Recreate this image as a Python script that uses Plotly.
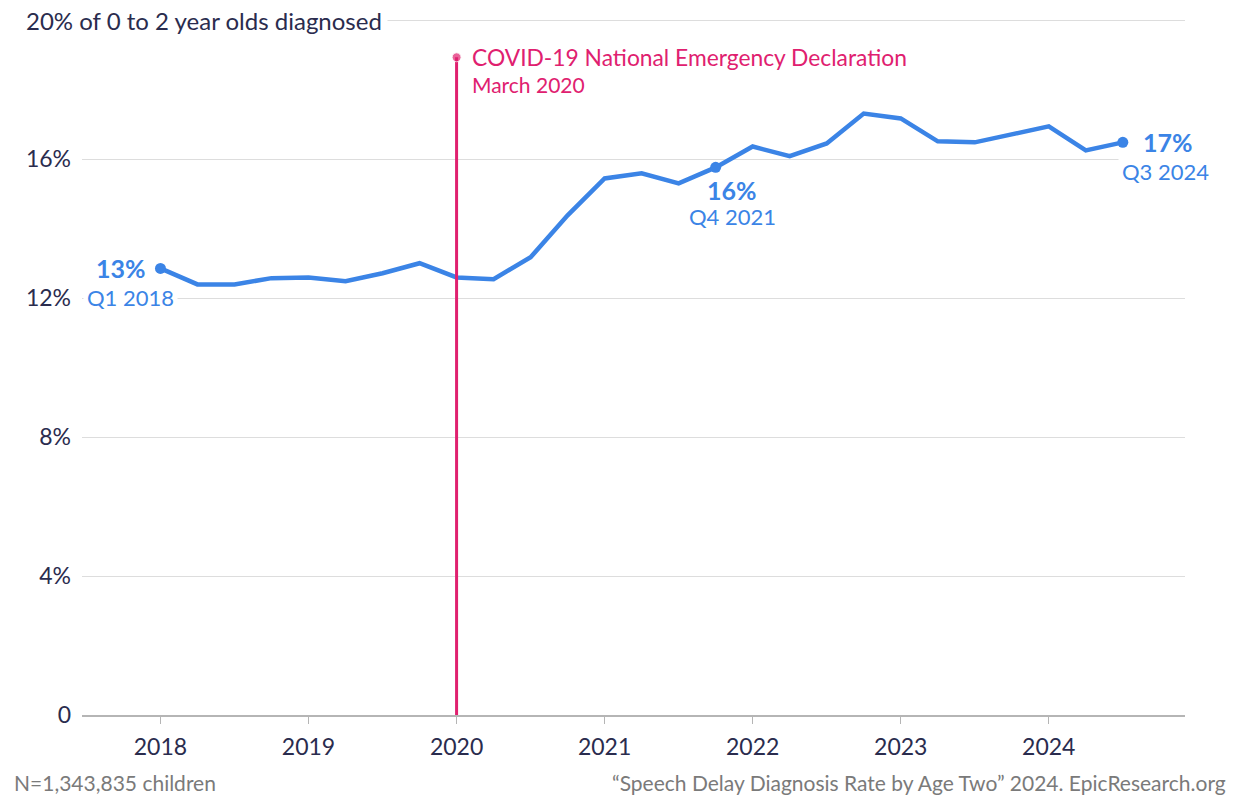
import plotly.graph_objects as go

# Quarterly data (fractional years: Q1 = .00, Q2 = .25, ...)
quarters = [
    "Q1 2018", "Q2 2018", "Q3 2018", "Q4 2018",
    "Q1 2019", "Q2 2019", "Q3 2019", "Q4 2019",
    "Q1 2020", "Q2 2020", "Q3 2020", "Q4 2020",
    "Q1 2021", "Q2 2021", "Q3 2021", "Q4 2021",
    "Q1 2022", "Q2 2022", "Q3 2022", "Q4 2022",
    "Q1 2023", "Q2 2023", "Q3 2023", "Q4 2023",
    "Q1 2024", "Q2 2024", "Q3 2024",
]
rate = [
    12.86, 12.40, 12.40, 12.58,
    12.60, 12.49, 12.72, 13.01,
    12.60, 12.55, 13.18, 14.39,
    15.45, 15.60, 15.31, 15.77,
    16.37, 16.09, 16.46, 17.32,
    17.18, 16.52, 16.49, 16.72,
    16.95, 16.26, 16.49,
]
year_ticks = [2018, 2019, 2020, 2021, 2022, 2023, 2024]
y_ticks = [0, 4, 8, 12, 16, 20]
y_ticktext = ["0", "4%", "8%", "12%", "16%", ""]
highlight = ["Q1 2018", "Q4 2021", "Q3 2024"]
highlight_text = ["13%", "16%", "17%"]
event_x = 2020.0
event_top = 18.94


def qx(q):
    qn, yr = q.split()
    return int(yr) + (int(qn[1]) - 1) / 4


xs = [qx(q) for q in quarters]
hx = [qx(q) for q in highlight]
hy = [rate[quarters.index(q)] for q in highlight]

BLUE = "#3b84e6"
PINK = "#e0206f"
NAVY = "#2a2c4e"
GRAY = "#7a7a7a"
FONT = "Lato"

fig = go.Figure()
fig.add_trace(go.Scatter(x=xs, y=rate, mode="lines",
                         line=dict(color=BLUE, width=4.5), hoverinfo="skip"))
fig.add_trace(go.Scatter(x=hx, y=hy, mode="markers",
                         marker=dict(color=BLUE, size=11), hoverinfo="skip"))
fig.add_trace(go.Scatter(x=[event_x, event_x], y=[0, event_top], mode="lines+markers",
                         line=dict(color=PINK, width=3),
                         marker=dict(color=PINK, size=[0, 9]), hoverinfo="skip"))

annotations = []
# 20% title-style tick label
annotations.append(dict(x=-0.056, xref="paper", y=20, yref="y", xanchor="left",
                        yanchor="middle", text="20% of 0 to 2 year olds diagnosed",
                        showarrow=False, bgcolor="white", borderpad=5,
                        font=dict(family=FONT, size=24, color=NAVY)))
# Event labels
annotations.append(dict(x=event_x, y=event_top, xanchor="left", yanchor="middle",
                        xshift=13, text="COVID-19 National Emergency Declaration",
                        showarrow=False, font=dict(family=FONT, size=22.8, color=PINK)))
annotations.append(dict(x=event_x, y=event_top, xanchor="left", yanchor="middle",
                        xshift=13, yshift=-27, text="March 2020",
                        showarrow=False, font=dict(family=FONT, size=21, color=PINK)))
# Highlight labels
# Q1 2018
annotations.append(dict(x=hx[0], y=hy[0], xanchor="right", yanchor="middle",
                        xshift=-12, yshift=0, text="<b>" + highlight_text[0] + "</b>",
                        showarrow=False, font=dict(family=FONT, size=25, color=BLUE)))
annotations.append(dict(x=hx[0], y=hy[0], xanchor="right", yanchor="middle",
                        xshift=18, yshift=-29, text=highlight[0], showarrow=False,
                        bgcolor="white", borderpad=3,
                        font=dict(family=FONT, size=22, color=BLUE)))
# Q4 2021
annotations.append(dict(x=hx[1], y=hy[1], xanchor="center", yanchor="middle",
                        xshift=16, yshift=-23, text="<b>" + highlight_text[1] + "</b>",
                        showarrow=False, font=dict(family=FONT, size=25, color=BLUE)))
annotations.append(dict(x=hx[1], y=hy[1], xanchor="center", yanchor="middle",
                        xshift=17, yshift=-49, text=highlight[1], showarrow=False,
                        font=dict(family=FONT, size=22, color=BLUE)))
# Q3 2024
annotations.append(dict(x=hx[2], y=hy[2], xanchor="left", yanchor="middle",
                        xshift=18, yshift=0, text="<b>" + highlight_text[2] + "</b>",
                        showarrow=False, font=dict(family=FONT, size=25, color=BLUE)))
annotations.append(dict(x=hx[2], y=hy[2], xanchor="left", yanchor="middle",
                        xshift=-5, yshift=-29, text=highlight[2], showarrow=False,
                        bgcolor="white", borderpad=3,
                        font=dict(family=FONT, size=22, color=BLUE)))
# Footer
annotations.append(dict(x=-0.0635, xref="paper", y=-0.0974, yref="paper",
                        xanchor="left", yanchor="middle", text="N=1,343,835 children",
                        showarrow=False, font=dict(family=FONT, size=21, color=GRAY)))
annotations.append(dict(x=1.0390, xref="paper", y=-0.0974, yref="paper",
                        xanchor="right", yanchor="middle",
                        text="\u201cSpeech Delay Diagnosis Rate by Age Two\u201d 2024. EpicResearch.org",
                        showarrow=False, font=dict(family=FONT, size=21, color=GRAY)))

fig.update_layout(
    width=1239, height=796,
    margin=dict(l=82, r=54, t=17, b=81, pad=0),
    plot_bgcolor="white", paper_bgcolor="white",
    showlegend=False,
    font=dict(family=FONT, color=NAVY),
    annotations=annotations,
    xaxis=dict(range=[2017.47, 2024.92], tickvals=year_ticks,
               ticktext=[str(y) for y in year_ticks],
               showgrid=False, zeroline=False, showline=True, linecolor="#b5b5b5",
               linewidth=1.5, ticks="outside", ticklen=7, tickcolor="#b5b5b5",
               tickwidth=1, ticklabelstandoff=4,
               tickfont=dict(family=FONT, size=23, color=NAVY)),
    yaxis=dict(range=[0, 20.1], tickvals=y_ticks, ticktext=y_ticktext,
               showgrid=True, gridcolor="#dddddd", gridwidth=1, zeroline=False,
               showline=False, ticks="", ticklabelstandoff=10,
               tickfont=dict(family=FONT, size=23, color=NAVY)),
)

fig.write_html("out.html", config={"displayModeBar": False},
               post_script="document.body.style.margin='0';document.body.style.overflow='hidden';")
